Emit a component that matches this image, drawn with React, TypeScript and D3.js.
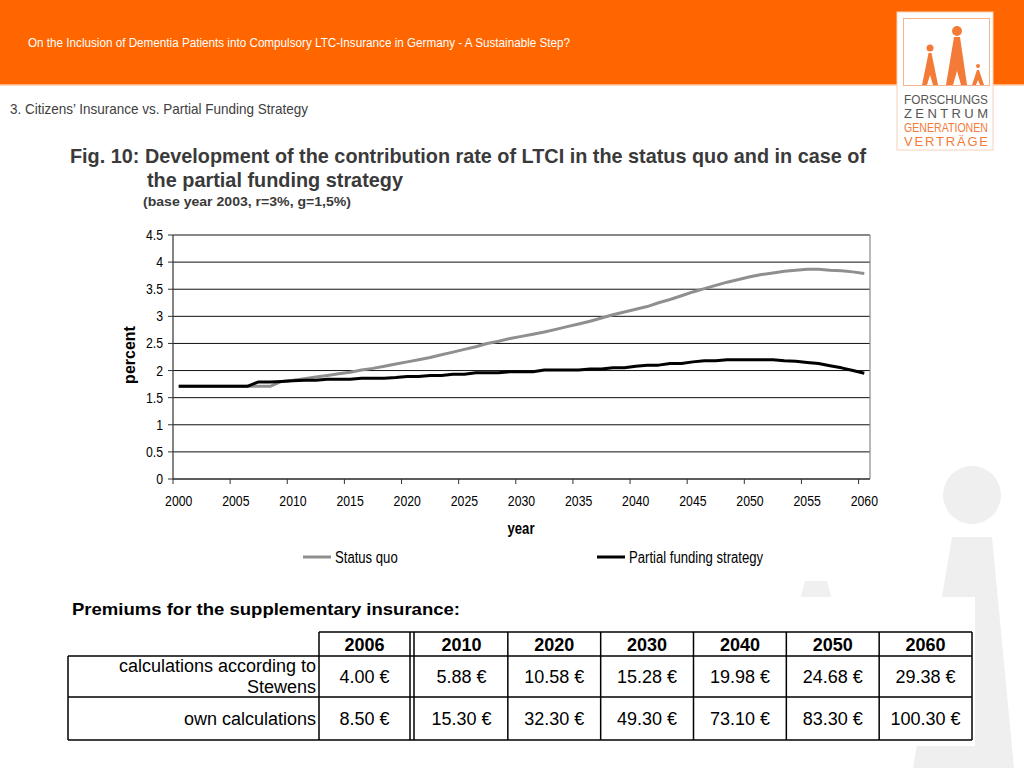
import React from 'react';
import * as d3 from 'd3';

// chart data
const years = d3.range(2000, 2061);
const statusQuo = [
  1.71, 1.71, 1.71, 1.71, 1.71, 1.71, 1.71, 1.71, 1.71, 1.8,
  1.82, 1.85, 1.88, 1.91, 1.94, 1.97, 2.01, 2.04, 2.08, 2.12,
  2.16, 2.2, 2.24, 2.29, 2.34, 2.39, 2.44, 2.5, 2.54, 2.59,
  2.63, 2.67, 2.71, 2.76, 2.81, 2.86, 2.91, 2.97, 3.03, 3.08,
  3.13, 3.18, 3.25, 3.31, 3.38, 3.45, 3.51, 3.57, 3.63, 3.68,
  3.73, 3.77, 3.8, 3.83, 3.85, 3.87, 3.87, 3.85, 3.84, 3.82, 3.79,
];
const partialFunding = [
  1.71, 1.71, 1.71, 1.71, 1.71, 1.71, 1.71, 1.79, 1.79, 1.8,
  1.81, 1.82, 1.82, 1.84, 1.84, 1.84, 1.86, 1.86, 1.86, 1.87,
  1.89, 1.89, 1.91, 1.91, 1.93, 1.93, 1.96, 1.96, 1.96, 1.98,
  1.98, 1.98, 2.01, 2.01, 2.01, 2.01, 2.03, 2.03, 2.05, 2.05,
  2.08, 2.1, 2.1, 2.13, 2.13, 2.16, 2.18, 2.18, 2.2, 2.2,
  2.2, 2.2, 2.2, 2.18, 2.17, 2.15, 2.13, 2.09, 2.05, 2.0, 1.95,
];
const xTickYears = [2000, 2005, 2010, 2015, 2020, 2025, 2030, 2035, 2040, 2045, 2050, 2055, 2060];
const yTicks = [0, 0.5, 1, 1.5, 2, 2.5, 3, 3.5, 4, 4.5];
const seriesNames = ['Status quo', 'Partial funding strategy'];

// table data
const tableYears = ['2006', '2010', '2020', '2030', '2040', '2050', '2060'];
const stewensRow = ['4.00 €', '5.88 €', '10.58 €', '15.28 €', '19.98 €', '24.68 €', '29.38 €'];
const ownRow = ['8.50 €', '15.30 €', '32.30 €', '49.30 €', '73.10 €', '83.30 €', '100.30 €'];

const ORANGE = '#ff6600';
const LOGO_ORANGE = '#f47a38';
const SANS = "'Liberation Sans', Arial, sans-serif";

const NText: React.FC<{
  x: number; y: number; size: number; anchor?: string; bold?: boolean; fill?: string; sx?: number; children: React.ReactNode;
}> = ({ x, y, size, anchor = 'start', bold = false, fill = '#000', sx = 0.82, children }) => (
  <text
    transform={`translate(${x},${y}) scale(${sx},1)`}
    fontSize={size}
    fontFamily={SANS}
    fontWeight={bold ? 'bold' : 'normal'}
    textAnchor={anchor as any}
    fill={fill}
  >
    {children}
  </text>
);

const App: React.FC = () => {
  const x = d3.scaleLinear().domain([1999.5, 2060.5]).range([173, 870]);
  const y = d3.scaleLinear().domain([0, 4.5]).range([479, 235]);

  const line = d3
    .line<number>()
    .x((_, i) => x(years[i]))
    .y((d) => y(d));

  // table layout: first year column, then a double rule, then the rest
  const firstCol = d3.scaleBand<string>().domain(tableYears.slice(0, 1)).range([319, 410]);
  const restCols = d3.scaleBand<string>().domain(tableYears.slice(1)).range([415, 972]);
  const colStart = (yr: string, i: number) => (i === 0 ? firstCol(yr) : restCols(yr)) || 0;
  const colWidth = (i: number) => (i === 0 ? firstCol.bandwidth() : restCols.bandwidth());
  const rowTop = [632, 656, 697, 740];
  const labelLeft = 68;
  const FS = 18;

  return (
    <svg width={1024} height={768} style={{ display: 'block', position: 'absolute', left: 0, top: 0 }}>
      <rect x={0} y={0} width={1024} height={768} fill="#fff" />

      {/* watermark figures */}
      <circle cx={972} cy={495} r={29} fill="#efefef" />
      <polygon points="952,537 992,537 1014,768 913,768" fill="#efefef" />
      <polygon points="805,581 827,581 832,600 800,600" fill="#f0f0f0" />
      <rect x={0} y={597} width={975} height={149} fill="#fff" />

      {/* header band */}
      <rect x={0} y={0} width={1024} height={84} fill={ORANGE} />
      <rect x={0} y={84} width={1024} height={1.5} fill="#ffb27f" />
      <text x={28} y={47} fontSize={12} fill="#fff" fontFamily={SANS} textLength={542} lengthAdjust="spacingAndGlyphs">
        On the Inclusion of Dementia Patients into Compulsory LTC-Insurance in Germany - A Sustainable Step?
      </text>
      <text x={10} y={114} fontSize={15} fill="#404040" fontFamily={SANS} textLength={298} lengthAdjust="spacingAndGlyphs">
        3.  Citizens’ Insurance vs. Partial Funding Strategy
      </text>

      {/* logo */}
      <rect x={897} y={12} width={96} height={138} fill="#fff" stroke="#f6d2bc" strokeWidth={1} />
      <rect x={903.5} y={18.5} width={86} height={67} fill="none" stroke="#f8b58c" strokeWidth={1} />
      <g fill={LOGO_ORANGE}>
        <circle cx={957} cy={31} r={5} />
        <polygon points="954,37 960,37 967,85 946,85" />
        <circle cx={930} cy={48} r={3.5} />
        <polygon points="928.5,53 931.5,53 938,85 922,85" />
        <circle cx={978} cy={66} r={2} />
        <polygon points="977,70 979,70 984,85 972,85" />
      </g>
      <g fill="#fff">
        <polygon points="957,71 961,85 953,85" />
        <polygon points="930,75 933,85 927,85" />
        <polygon points="978,80 980,85 976,85" />
      </g>
      <text x={904} y={104} fontSize={13} fill="#555" fontFamily={SANS} textLength={84} lengthAdjust="spacingAndGlyphs">FORSCHUNGS</text>
      <text x={904} y={118} fontSize={13} fill="#555" fontFamily={SANS} textLength={84} lengthAdjust="spacing">ZENTRUM</text>
      <text x={904} y={132} fontSize={13} fill={LOGO_ORANGE} fontFamily={SANS} textLength={84} lengthAdjust="spacingAndGlyphs">GENERATIONEN</text>
      <text x={904} y={146} fontSize={13} fill={LOGO_ORANGE} fontFamily={SANS} textLength={84} lengthAdjust="spacing">VERTRÄGE</text>

      {/* chart titles */}
      <text x={70} y={163} fontSize={21} fontWeight="bold" fill="#3a3a3a" fontFamily={SANS} textLength={796} lengthAdjust="spacingAndGlyphs">
        Fig. 10: Development of the contribution rate of LTCI in the status quo and in case of
      </text>
      <text x={147} y={187} fontSize={21} fontWeight="bold" fill="#3a3a3a" fontFamily={SANS} textLength={256} lengthAdjust="spacingAndGlyphs">
        the partial funding strategy
      </text>
      <text x={143} y={206} fontSize={13} fontWeight="bold" fill="#3a3a3a" fontFamily={SANS} textLength={208} lengthAdjust="spacingAndGlyphs">
        (base year 2003, r=3%, g=1,5%)
      </text>

      {/* grid */}
      {yTicks.map((t) => (
        <line key={t} x1={173} x2={870} y1={y(t)} y2={y(t)} stroke="#111" strokeWidth={1} />
      ))}
      <line x1={870} x2={870} y1={y(4.5)} y2={y(0)} stroke="#8a8a8a" strokeWidth={1.2} />
      <line x1={173} x2={173} y1={y(4.5)} y2={y(0)} stroke="#333" strokeWidth={1.2} />
      <line x1={173} x2={870} y1={y(0)} y2={y(0)} stroke="#333" strokeWidth={1.2} />
      {yTicks.map((t) => (
        <g key={`yt${t}`}>
          <line x1={168} x2={173} y1={y(t)} y2={y(t)} stroke="#333" />
          <NText x={163} y={y(t) + 5} size={15} anchor="end">{String(t)}</NText>
        </g>
      ))}
      {xTickYears.map((yr) => (
        <g key={`xt${yr}`}>
          <line x1={x(yr - 0.5)} x2={x(yr - 0.5)} y1={479} y2={484} stroke="#333" />
          <NText x={x(yr)} y={506} size={15} anchor="middle">{String(yr)}</NText>
        </g>
      ))}
      <text transform="translate(135,355) rotate(-90)" fontSize={16} fontWeight="bold" fontFamily={SANS} textAnchor="middle">
        percent
      </text>
      <NText x={521} y={534} size={16} anchor="middle" bold>year</NText>

      {/* lines */}
      <path d={line(statusQuo) || ''} fill="none" stroke="#8f8f8f" strokeWidth={3} strokeLinejoin="round" />
      <path d={line(partialFunding) || ''} fill="none" stroke="#000" strokeWidth={3} strokeLinejoin="round" />

      {/* legend */}
      <line x1={303} x2={331} y1={557} y2={557} stroke="#8f8f8f" strokeWidth={3} />
      <NText x={335} y={563} size={16}>{seriesNames[0]}</NText>
      <line x1={597} x2={625} y1={557} y2={557} stroke="#000" strokeWidth={3} />
      <NText x={629} y={563} size={16}>{seriesNames[1]}</NText>

      {/* table */}
      <text x={72} y={615} fontSize={17} fontWeight="bold" fontFamily={SANS} textLength={388} lengthAdjust="spacingAndGlyphs">
        Premiums for the supplementary insurance:
      </text>
      <g stroke="#000" strokeWidth={1.5} fill="none">
        <line x1={319} x2={972} y1={rowTop[0]} y2={rowTop[0]} />
        <line x1={labelLeft} x2={972} y1={rowTop[1]} y2={rowTop[1]} />
        <line x1={labelLeft} x2={972} y1={rowTop[2]} y2={rowTop[2]} />
        <line x1={labelLeft} x2={972} y1={rowTop[3]} y2={rowTop[3]} />
        <line x1={labelLeft} x2={labelLeft} y1={rowTop[1]} y2={rowTop[3]} />
        <line x1={319} x2={319} y1={rowTop[0]} y2={rowTop[3]} />
        {tableYears.map((yr, i) => {
          const right = colStart(yr, i) + colWidth(i);
          return (
            <g key={`c${yr}`}>
              <line x1={right} x2={right} y1={rowTop[0]} y2={rowTop[3]} />
              {i === 0 && <line x1={right + 4} x2={right + 4} y1={rowTop[0]} y2={rowTop[3]} />}
            </g>
          );
        })}
      </g>
      {tableYears.map((yr, i) => {
        const cx = colStart(yr, i) + colWidth(i) / 2;
        return (
          <g key={`v${yr}`}>
            <text x={cx} y={651} fontSize={FS} fontWeight="bold" fontFamily={SANS} textAnchor="middle">{yr}</text>
            <text x={cx} y={683} fontSize={FS} fontFamily={SANS} textAnchor="middle">{stewensRow[i]}</text>
            <text x={cx} y={725} fontSize={FS} fontFamily={SANS} textAnchor="middle">{ownRow[i]}</text>
          </g>
        );
      })}
      <text x={316} y={672} fontSize={FS} fontFamily={SANS} textAnchor="end">calculations according to</text>
      <text x={316} y={693} fontSize={FS} fontFamily={SANS} textAnchor="end">Stewens</text>
      <text x={316} y={725} fontSize={FS} fontFamily={SANS} textAnchor="end">own calculations</text>
    </svg>
  );
};

export default App;
